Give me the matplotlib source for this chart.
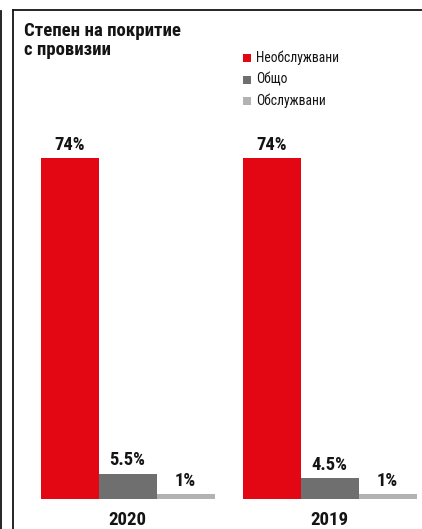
import matplotlib
matplotlib.use("Agg")
import matplotlib.pyplot as plt
from matplotlib.lines import Line2D
from matplotlib.patches import Rectangle
import numpy as np

plt.rcParams['font.family'] = ['Roboto Condensed', 'Liberation Sans Narrow',
                               'Roboto', 'DejaVu Sans']

years = ["2020", "2019"]
series_names = ["Необслужвани", "Общо", "Обслужвани"]
values = {
    "Необслужвани": [74, 74],
    "Общо": [5.5, 4.5],
    "Обслужвани": [1, 1],
}
value_labels = {
    "Необслужвани": ["74%", "74%"],
    "Общо": ["5.5%", "4.5%"],
    "Обслужвани": ["1%", "1%"],
}
colors = ["#E30613", "#6F6F6F", "#B2B2B2"]
title_lines = ["Степен на покритие", "с провизии"]
ink = "#141414"

W, H = 422, 529
fig = plt.figure(figsize=(W / 100, H / 100), dpi=100)

# axes spans the framed panel: x 13..422 px, y 10..499 px (from top)
ax = fig.add_axes([13 / W, (H - 499) / H, (W - 13) / W, (499 - 10) / H])
group_gap_px = 202.0
bar_w = 58.0 / group_gap_px
ax.set_xlim((13 - 127.5) / group_gap_px, (422 - 127.5) / group_gap_px)
ax.set_ylim(0, (499 - 10) / (341.0 / 74))

x = np.arange(len(years))
for i, name in enumerate(series_names):
    pos = x + (i - 1) * bar_w
    ax.bar(pos, values[name], width=bar_w, color=colors[i], linewidth=0)
    for xp, v, lab in zip(pos, values[name], value_labels[name]):
        ax.annotate(lab, (xp, v), xytext=(0, 6), textcoords="offset points",
                    ha="center", va="baseline", fontsize=13.4,
                    fontweight="bold", color=ink)

for xp, yr in zip(x, years):
    ax.annotate(yr, (xp, 0), xytext=(0, -15), textcoords="offset points",
                ha="center", va="center", fontsize=13.6, fontweight="bold",
                color=ink)
ax.axis("off")

# title, two lines
for txt, base in zip(title_lines, [36, 55]):
    fig.text(24 / W, 1 - base / H, txt, ha="left", va="baseline",
             fontsize=13.5, fontweight="bold", color=ink)

# legend
leg_y = [58, 79.5, 101]
for name, c, yy in zip(series_names, colors, leg_y):
    fig.patches.append(Rectangle((243 / W, 1 - (yy + 4) / H), 8 / W, 8 / H,
                                 transform=fig.transFigure, color=c,
                                 linewidth=0))
    fig.text(256 / W, 1 - yy / H, name, ha="left", va="center", fontsize=9.8,
             color=ink)

# panel frame lines
fig.lines.append(Line2D([13 / W, 13 / W], [0, 1 - 10 / H],
                        transform=fig.transFigure, color=ink, lw=1.3))
fig.lines.append(Line2D([13 / W, 1], [1 - 10 / H, 1 - 10 / H],
                        transform=fig.transFigure, color=ink, lw=1.3))
fig.lines.append(Line2D([1 / W, 1 / W], [0, 1 - 11 / H],
                        transform=fig.transFigure, color=ink, lw=1.3))

fig.savefig("out.png", dpi=100)
